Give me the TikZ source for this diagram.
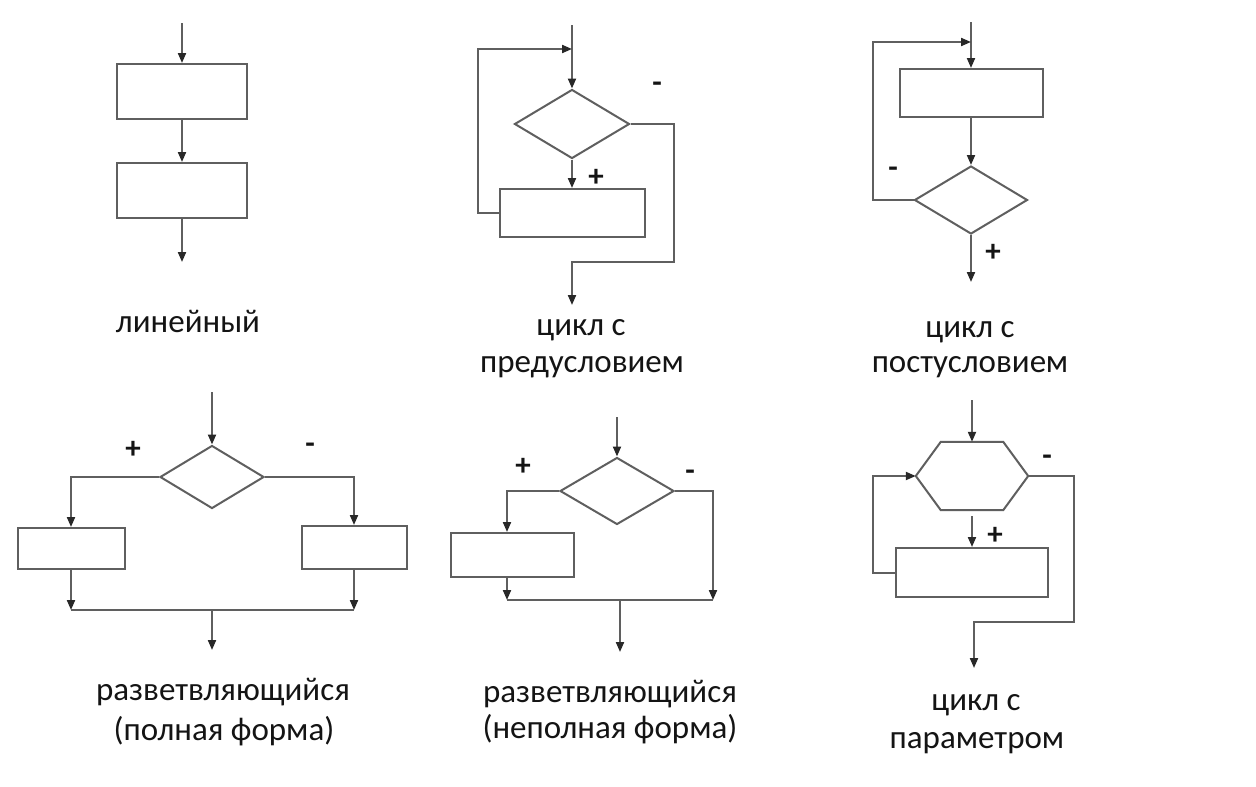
\documentclass[tikz,border=0pt]{standalone}
\usepackage{fontspec}
\setmainfont{Carlito}
\usetikzlibrary{arrows.meta,shapes.geometric}
\definecolor{linegray}{RGB}{95,95,95}
\definecolor{tipdark}{RGB}{40,40,40}
\definecolor{textdark}{RGB}{20,20,20}
\tikzset{
  flow/.style={draw=linegray, line width=2pt},
  arr/.style={flow, -{Triangle[length=10pt,width=8pt,color=tipdark]}},
  block/.style={draw=linegray, line width=2pt, rectangle, inner sep=0pt},
  decision/.style={draw=linegray, line width=2pt, diamond, inner sep=0pt},
  hexframe/.style={rectangle, inner sep=0pt},
  caption/.style={font=\fontsize{33}{40}\selectfont, text=textdark, anchor=base, inner sep=0pt},
  sign/.style={font=\bfseries\fontsize{31}{34}\selectfont, text=textdark, inner sep=0pt}
}
\begin{document}
\begin{tikzpicture}[x=1pt,y=-1pt]
\useasboundingbox[fill=white] (0,0) rectangle (1256,787);

% linear
\coordinate (l0) at (182,23);
\node[block, minimum width=130pt, minimum height=55pt] (l1) at (182,91.5) {};
\node[block, minimum width=130pt, minimum height=55pt] (l2) at (182,190.5) {};
\coordinate (l3) at (182,262);
\draw[arr] (l0) -- (l1);
\draw[arr] (l1) -- (l2);
\draw[arr] (l2) -- (l3);
\node[caption] (lcap) at (188,332) {линейный};

% loop with precondition
\coordinate (p0) at (572,25);
\coordinate (pj) at (572,49);
\node[decision, minimum width=115pt, minimum height=69pt] (pd) at (572,124) {};
\node[block, minimum width=145pt, minimum height=48pt] (pb) at (572,213) {};
\coordinate (pe) at (572,305);
\draw[arr] (p0) -- (pd.north);
\draw[arr] (pd.south) -- (pb.north);
\draw[arr] (pb.west) -- ++(-21,0) |- (pj);
\draw[arr] (pd.east) -- ++(43,0) -- ++(0,138) -| (pe);
\node[sign] (pminus) at (657,87) {-};
\node[sign] (pplus) at (596,178) {+};
\node[caption] (pcap1) at (581,335) {цикл с};
\node[caption] (pcap2) at (582,372) {предусловием};

% loop with postcondition
\coordinate (q0) at (971,22);
\coordinate (qj) at (971,42);
\node[block, minimum width=143pt, minimum height=48pt] (qb) at (971,93) {};
\node[decision, minimum width=113pt, minimum height=68pt] (qd) at (971,200) {};
\coordinate (qe) at (971,282);
\draw[arr] (q0) -- (qb.north);
\draw[arr] (qb.south) -- (qd.north);
\draw[arr] (qd.south) -- (qe);
\draw[arr] (qd.west) -- ++(-41,0) |- (qj);
\node[sign] (qminus) at (893,172) {-};
\node[sign] (qplus) at (993,253) {+};
\node[caption] (qcap1) at (970,337) {цикл с};
\node[caption] (qcap2) at (970,372) {постусловием};

% full branching
\coordinate (f0) at (212,392);
\node[decision, minimum width=104pt, minimum height=63pt] (fd) at (212,477) {};
\node[block, minimum width=107pt, minimum height=41pt] (fl) at (71,548.5) {};
\node[block, minimum width=105pt, minimum height=43pt] (fr) at (354,547.5) {};
\coordinate (fml) at (71,610);
\coordinate (fmr) at (354,610);
\coordinate (fm) at (212,610);
\coordinate (fe) at (212,650);
\draw[arr] (f0) -- (fd.north);
\draw[arr] (fd.west) -| (fl.north);
\draw[arr] (fd.east) -| (fr.north);
\draw[arr] (fl.south) -- (fml);
\draw[arr] (fr.south) -- (fmr);
\draw[flow] (fml) -- (fmr);
\draw[arr] (fm) -- (fe);
\node[sign] (fplus) at (133,450) {+};
\node[sign] (fminus) at (310,448) {-};
\node[caption] (fcap1) at (223,700) {разветвляющийся};
\node[caption] (fcap2) at (224,740) {(полная форма)};

% incomplete branching
\coordinate (n0) at (617,417);
\node[decision, minimum width=114pt, minimum height=67pt] (nd) at (617,491) {};
\node[block, minimum width=123pt, minimum height=44pt] (nb) at (512.5,555) {};
\coordinate (nml) at (507,600);
\coordinate (nmr) at (713,600);
\coordinate (nm) at (620,600);
\coordinate (ne) at (620,652);
\draw[arr] (n0) -- (nd.north);
\draw[arr] (nd.west) -| ([xshift=-5.5pt]nb.north);
\draw[arr] ([xshift=-5.5pt]nb.south) -- (nml);
\draw[arr] (nd.east) -| (nmr);
\draw[flow] (nml) -- (nmr);
\draw[arr] (nm) -- (ne);
\node[sign] (nplus) at (523,467) {+};
\node[sign] (nminus) at (690,475) {-};
\node[caption] (ncap1) at (610,702) {разветвляющийся};
\node[caption] (ncap2) at (610,738) {(неполная форма)};

% loop with parameter: hexagon drawn on the frame of an empty node
\coordinate (c0) at (972,400);
\node[hexframe, minimum width=112pt, minimum height=68pt] (ch) at (972,476) {};
\draw[flow] (ch.west) -- ([xshift=25pt]ch.north west) -- ([xshift=-25pt]ch.north east)
  -- (ch.east) -- ([xshift=-25pt]ch.south east) -- ([xshift=25pt]ch.south west) -- cycle;
\node[block, minimum width=152pt, minimum height=49pt] (cb) at (972,572.5) {};
\coordinate (cs) at (972,516);
\coordinate (ce) at (974,668);
\draw[arr] (c0) -- (ch.north);
\draw[arr] (cs) -- (cb.north);
\draw[arr] (cb.west) -- ++(-22,0) |- (ch.west);
\draw[arr] (ch.east) -- ++(46,0) -- ++(0,146) -| (ce);
\node[sign] (cplus) at (995,536) {+};
\node[sign] (cminus) at (1047,460) {-};
\node[caption] (ccap1) at (976,710) {цикл с};
\node[caption] (ccap2) at (977,748) {параметром};
\end{tikzpicture}
\end{document}
